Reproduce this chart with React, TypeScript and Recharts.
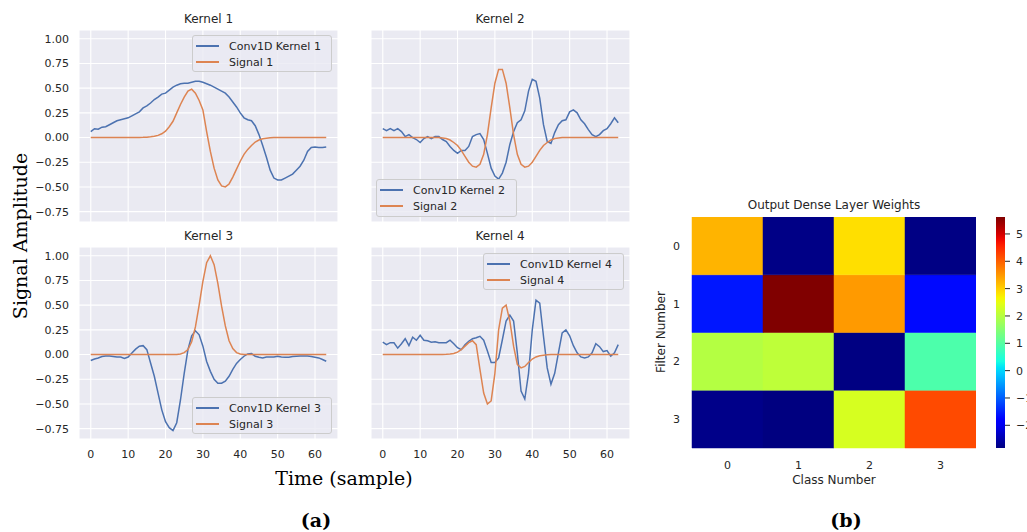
import React from 'react';
import { LineChart, Line, XAxis, YAxis, CartesianGrid, BarChart, Bar, Cell } from 'recharts';

// sample index 0..63
const samples = Array.from({ length: 64 }, (_, i) => i);

const kernel1 = [0.06, 0.09, 0.085, 0.105, 0.11, 0.13, 0.15, 0.17, 0.18, 0.19,
  0.2, 0.22, 0.24, 0.26, 0.3, 0.32, 0.35, 0.385, 0.41, 0.44,
  0.45, 0.48, 0.51, 0.53, 0.545, 0.55, 0.55, 0.56, 0.57, 0.57,
  0.56, 0.545, 0.53, 0.51, 0.49, 0.47, 0.45, 0.41, 0.36, 0.31,
  0.25, 0.2, 0.18, 0.17, 0.12, 0.03, -0.08, -0.2, -0.33, -0.41,
  -0.43, -0.43, -0.41, -0.39, -0.37, -0.33, -0.29, -0.23, -0.14, -0.1,
  -0.095, -0.1, -0.1, -0.095];
const signal1 = [0, 0, 0, 0, 0, 0, 0, 0, 0, 0,
  0, 0, 0, 0.001, 0.002, 0.004, 0.008, 0.013, 0.022, 0.038,
  0.065, 0.11, 0.165, 0.25, 0.335, 0.41, 0.47, 0.49, 0.45, 0.375,
  0.28, 0.06, -0.14, -0.31, -0.43, -0.49, -0.5, -0.47, -0.4, -0.32,
  -0.24, -0.17, -0.12, -0.08, -0.045, -0.025, -0.012, -0.006, -0.003, 0,
  0, 0, 0, 0, 0, 0, 0, 0, 0, 0,
  0, 0, 0, 0];

const kernel2 = [0.09, 0.07, 0.09, 0.07, 0.09, 0.06, 0.01, 0.03, 0.0, -0.02,
  -0.05, -0.01, 0.01, -0.01, 0.01, 0.01, -0.02, -0.04, -0.09, -0.13,
  -0.16, -0.13, -0.13, -0.09, 0.01, 0.03, 0.04, -0.02, -0.16, -0.31,
  -0.39, -0.42, -0.36, -0.25, -0.07, 0.06, 0.15, 0.18, 0.27, 0.47,
  0.59, 0.57, 0.4, 0.13, -0.04, -0.06, 0.05, 0.13, 0.17, 0.18,
  0.26, 0.28, 0.25, 0.18, 0.14, 0.08, 0.03, 0.01, 0.03, 0.07,
  0.09, 0.14, 0.2, 0.15];
const signal2 = [0, 0, 0, 0, 0, 0, 0, 0, 0, 0,
  0, 0, 0, 0, 0, 0, -0.005, -0.01, -0.025, -0.05,
  -0.08, -0.13, -0.19, -0.25, -0.29, -0.3, -0.27, -0.17, 0.03, 0.3,
  0.55, 0.69, 0.69, 0.55, 0.3, 0.03, -0.17, -0.27, -0.3, -0.29,
  -0.25, -0.19, -0.13, -0.08, -0.05, -0.025, -0.01, -0.005, 0, 0,
  0, 0, 0, 0, 0, 0, 0, 0, 0, 0,
  0, 0, 0, 0];

const kernel3 = [-0.06, -0.045, -0.035, -0.02, -0.015, -0.015, -0.02, -0.025, -0.025, -0.04,
  -0.025, 0.015, 0.055, 0.085, 0.09, 0.05, -0.085, -0.22, -0.39, -0.56,
  -0.68, -0.74, -0.77, -0.69, -0.46, -0.19, 0.05, 0.19, 0.24, 0.2,
  0.085, -0.07, -0.17, -0.25, -0.29, -0.29, -0.27, -0.22, -0.15, -0.09,
  -0.05, -0.017, 0.007, 0.01, -0.017, -0.027, -0.034, -0.024, -0.024, -0.024,
  -0.017, -0.024, -0.027, -0.027, -0.02, -0.017, -0.014, -0.014, -0.014, -0.02,
  -0.027, -0.034, -0.05, -0.068];
const signal3 = [0, 0, 0, 0, 0, 0, 0, 0, 0, 0,
  0, 0, 0, 0, 0, 0, 0, 0, 0, 0,
  0, 0, 0, 0, 0.005, 0.02, 0.05, 0.13, 0.28, 0.5,
  0.74, 0.93, 1.0, 0.91, 0.72, 0.49, 0.29, 0.14, 0.06, 0.02,
  0.006, 0, 0, 0, 0, 0, 0, 0, 0, 0,
  0, 0, 0, 0, 0, 0, 0, 0, 0, 0,
  0, 0, 0, 0];

const kernel4 = [0.125, 0.1, 0.12, 0.12, 0.065, 0.11, 0.16, 0.09, 0.175, 0.145,
  0.195, 0.145, 0.14, 0.125, 0.13, 0.12, 0.12, 0.12, 0.145, 0.11,
  0.07, 0.05, 0.1, 0.135, 0.16, 0.17, 0.185, 0.145, 0.035, -0.08,
  -0.08, -0.035, 0.15, 0.34, 0.4, 0.34, 0.017, -0.37, -0.45, -0.19,
  0.25, 0.55, 0.52, 0.185, -0.135, -0.3, -0.19, 0.017, 0.22, 0.25,
  0.19, 0.09, 0.017, -0.024, -0.034, -0.024, 0.017, 0.11, 0.08, 0.03,
  0.04, -0.017, 0.017, 0.1];
const signal4 = [0, 0, 0, 0, 0, 0, 0, 0, 0, 0,
  0, 0, 0, 0, 0, 0, 0, 0.002, 0.005, 0.01,
  0.025, 0.05, 0.085, 0.12, 0.14, 0.1, -0.15, -0.39, -0.5, -0.47,
  -0.19, 0.25, 0.47, 0.5, 0.34, 0.085, -0.1, -0.135, -0.12, -0.08,
  -0.045, -0.024, -0.012, -0.006, -0.003, 0, 0, 0, 0, 0,
  0, 0, 0, 0, 0, 0, 0, 0, 0, 0,
  0, 0, 0, 0];

const xTicks = [0, 10, 20, 30, 40, 50, 60];
const yTicks = [-0.75, -0.5, -0.25, 0, 0.25, 0.5, 0.75, 1.0];

// output dense layer weights, one row per filter, one column per class
const classes = [0, 1, 2, 3];
const filters = [0, 1, 2, 3];
const weightsFilter0 = [3.25, -2.78, 2.86, -2.8];
const weightsFilter1 = [-1.59, 5.62, 3.48, -1.71];
const weightsFilter2 = [1.98, 2.08, -2.81, 0.91];
const weightsFilter3 = [-2.76, -2.83, 2.33, 4.2];
const weights = [weightsFilter0, weightsFilter1, weightsFilter2, weightsFilter3];
const colorbarTicks = [-2, -1, 0, 1, 2, 3, 4, 5];

const BLUE = '#4C72B0';
const ORANGE = '#DD8452';
const TEXT = '#262626';
const BG = '#EAEAF2';

const vmin = Math.min(...weights.flat());
const vmax = Math.max(...weights.flat());

const jetR = [[0, 0], [0.35, 0], [0.66, 1], [0.89, 1], [1, 0.5]];
const jetG = [[0, 0], [0.125, 0], [0.375, 1], [0.64, 1], [0.91, 0], [1, 0]];
const jetB = [[0, 0.5], [0.11, 1], [0.34, 1], [0.65, 0], [1, 0]];

function seg(pts: number[][], t: number) {
  for (let k = 1; k < pts.length; k++) {
    if (t <= pts[k][0]) {
      const [x0, y0] = pts[k - 1];
      const [x1, y1] = pts[k];
      return y0 + ((t - x0) / (x1 - x0)) * (y1 - y0);
    }
  }
  return pts[pts.length - 1][1];
}

function jetAt(t: number) {
  const c = Math.max(0, Math.min(1, t));
  const h = (x: number) => Math.round(x * 255);
  return `rgb(${h(seg(jetR, c))},${h(seg(jetG, c))},${h(seg(jetB, c))})`;
}

const jet = (v: number) => jetAt((v - vmin) / (vmax - vmin));

const fmtY = (v: number) => (v < 0 ? '\u2212' : '') + Math.abs(v).toFixed(2);
const tickStyle = { fontSize: 11, fill: TEXT, fontFamily: 'DejaVu Sans' };

interface PanelProps {
  kernel: number[];
  signal: number[];
  showY: boolean;
  showX: boolean;
  left: number;
  top: number;
}

const Panel = ({ kernel, signal, showY, showX, left, top }: PanelProps) => {
  const data = samples.map((s, i) => ({ s, k: kernel[i], sig: signal[i] }));
  const yw = showY ? 50 : 0;
  const xh = showX ? 25 : 0;
  return (
    <div style={{ position: 'absolute', left: left - yw, top }}>
      <LineChart width={259 + yw} height={192 + xh} data={data} margin={{ top: 0, right: 0, bottom: 0, left: 0 }}>
        <CartesianGrid stroke="#ffffff" strokeWidth={1.1} fill={BG} fillOpacity={1} />
        <XAxis
          dataKey="s"
          type="number"
          domain={[-3.15, 66.15]}
          ticks={xTicks}
          allowDataOverflow
          hide={!showX}
          height={xh}
          axisLine={false}
          tickLine={false}
          tick={tickStyle}
          tickMargin={5}
        />
        <YAxis
          type="number"
          domain={[-0.855, 1.089]}
          ticks={yTicks}
          allowDataOverflow
          hide={!showY}
          width={yw}
          axisLine={false}
          tickLine={false}
          tick={tickStyle}
          tickMargin={4}
          tickFormatter={fmtY}
        />
        <Line type="linear" dataKey="k" stroke={BLUE} strokeWidth={1.5} dot={false} isAnimationActive={false} />
        <Line type="linear" dataKey="sig" stroke={ORANGE} strokeWidth={1.5} dot={false} isAnimationActive={false} />
      </LineChart>
    </div>
  );
};

interface LegendProps {
  left: number;
  top: number;
  width: number;
  height: number;
  items: { label: string; color: string }[];
}

const LegendBox = ({ left, top, width, height, items }: LegendProps) => (
  <div
    style={{
      position: 'absolute', left, top, width, height, boxSizing: 'border-box',
      background: 'rgba(234,234,242,0.8)', border: '1px solid #cccccc', borderRadius: 3,
    }}
  >
    {items.map((it, k) => (
      <div key={k} style={{ position: 'absolute', left: 3, top: 2 + k * 16, height: 16, display: 'flex', alignItems: 'center' }}>
        <div style={{ width: 23, height: 1.5, background: it.color }} />
        <span style={{ marginLeft: 10, fontSize: 11, color: TEXT, whiteSpace: 'nowrap' }}>{it.label}</span>
      </div>
    ))}
  </div>
);

const Label = ({ x, y, text, size = 12, rotate = 0, serif = false, bold = false }: any) => (
  <div
    style={{
      position: 'absolute', left: x, top: y, transform: `translate(-50%, -50%) rotate(${rotate}deg)`,
      fontSize: size, color: serif ? '#000' : TEXT, whiteSpace: 'nowrap', lineHeight: 1,
      fontFamily: serif ? 'DejaVu Serif' : 'DejaVu Sans', fontWeight: bold ? 'bold' : 'normal',
    }}
  >
    {text}
  </div>
);

const heatData = classes.map((c) => ({ cls: String(c), f0: 1, f1: 1, f2: 1, f3: 1 }));
const colorbarData = [{ name: 'cb', range: [vmin, vmax] }];
const gradStops = Array.from({ length: 41 }, (_, k) => k / 40);

export default function App() {
  return (
    <div
      style={{
        position: 'absolute', left: 0, top: 0, width: 1027, height: 532, overflow: 'hidden',
        background: '#fff', fontFamily: 'DejaVu Sans',
      }}
    >
      <Label x={208.5} y={19} text="Kernel 1" />
      <Label x={500} y={19} text="Kernel 2" />
      <Label x={208.5} y={236} text="Kernel 3" />
      <Label x={500} y={236} text="Kernel 4" />

      <Panel kernel={kernel1} signal={signal1} showY showX={false} left={79} top={30} />
      <Panel kernel={kernel2} signal={signal2} showY={false} showX={false} left={371} top={30} />
      <Panel kernel={kernel3} signal={signal3} showY showX left={79} top={247} />
      <Panel kernel={kernel4} signal={signal4} showY={false} showX left={371} top={247} />

      <LegendBox left={192} top={35} width={140} height={37}
        items={[{ label: 'Conv1D Kernel 1', color: BLUE }, { label: 'Signal 1', color: ORANGE }]} />
      <LegendBox left={376} top={179} width={141} height={38}
        items={[{ label: 'Conv1D Kernel 2', color: BLUE }, { label: 'Signal 2', color: ORANGE }]} />
      <LegendBox left={192} top={397} width={140} height={37}
        items={[{ label: 'Conv1D Kernel 3', color: BLUE }, { label: 'Signal 3', color: ORANGE }]} />
      <LegendBox left={483} top={253} width={141} height={37}
        items={[{ label: 'Conv1D Kernel 4', color: BLUE }, { label: 'Signal 4', color: ORANGE }]} />

      <Label x={20} y={236} text="Signal Amplitude" size={19} rotate={-90} serif />
      <Label x={344} y={478} text="Time (sample)" size={19} serif />
      <Label x={316} y={520} text="(a)" size={19} serif bold />
      <Label x={846} y={520} text="(b)" size={19} serif bold />

      {/* heatmap */}
      <Label x={834} y={205} text="Output Dense Layer Weights" />
      <Label x={661} y={332} text="Filter Number" rotate={-90} />
      <Label x={834} y={480} text="Class Number" />
      <div style={{ position: 'absolute', left: 662, top: 217 }}>
        <BarChart width={314} height={261} data={heatData} margin={{ top: 0, right: 0, bottom: 0, left: 0 }}
          barCategoryGap={0} barGap={0}>
          <XAxis dataKey="cls" height={30} axisLine={false} tickLine={false} tick={tickStyle} tickMargin={7} />
          <YAxis type="number" domain={[0, 4]} ticks={[0.5, 1.5, 2.5, 3.5]} width={30}
            axisLine={false} tickLine={false} tick={tickStyle} tickMargin={6}
            tickFormatter={(v: number) => String(filters[Math.round(3.5 - v)])} />
          {['f3', 'f2', 'f1', 'f0'].map((key) => {
            const row = weights[Number(key[1])];
            return (
              <Bar key={key} dataKey={key} stackId="h" isAnimationActive={false}>
                {classes.map((c, ci) => (
                  <Cell key={c} fill={jet(row[ci])} stroke={jet(row[ci])} strokeWidth={0.5} />
                ))}
              </Bar>
            );
          })}
        </BarChart>
      </div>

      {/* colorbar */}
      <div style={{ position: 'absolute', left: 996, top: 217 }}>
        <BarChart width={40} height={231} data={colorbarData} margin={{ top: 0, right: 0, bottom: 0, left: 0 }}
          barCategoryGap={0}>
          <defs>
            <linearGradient id="jetGrad" x1="0" y1="1" x2="0" y2="0">
              {gradStops.map((t) => (
                <stop key={t} offset={`${t * 100}%`} stopColor={jetAt(t)} />
              ))}
            </linearGradient>
          </defs>
          <XAxis dataKey="name" hide />
          <YAxis orientation="right" type="number" domain={[vmin, vmax]} ticks={colorbarTicks} width={31}
            axisLine={false} tickSize={5} tickLine={{ stroke: TEXT, strokeWidth: 1 }} tick={tickStyle} tickMargin={6}
            tickFormatter={(v: number) => (v < 0 ? '\u2212' + Math.abs(v) : String(v))} />
          <Bar dataKey="range" fill="url(#jetGrad)" isAnimationActive={false} />
        </BarChart>
      </div>
    </div>
  );
}
